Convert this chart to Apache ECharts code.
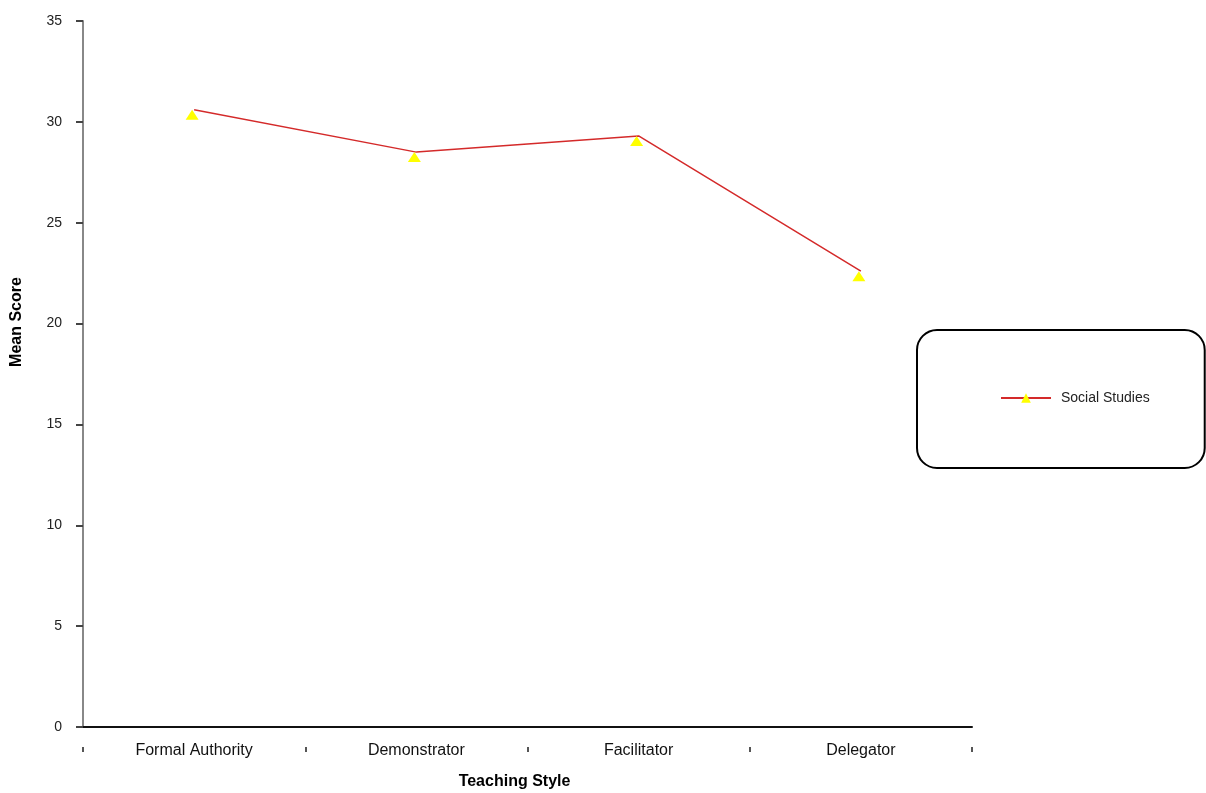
<!DOCTYPE html>
<html>
<head>
<meta charset="utf-8">
<script src="https://cdn.jsdelivr.net/npm/echarts@6/dist/echarts.min.js"></script>
<style>html,body{margin:0;padding:0;background:#fff}#c{width:1206px;height:793px}</style>
</head>
<body>
<div id="c"></div>
<script>
var categories = ['Formal Authority', 'Demonstrator', 'Facilitator', 'Delegator'];
var socialStudies = [30.6, 28.5, 29.3, 22.6];
var seriesName = 'Social Studies';

var chart = echarts.init(document.getElementById('c'));
chart.setOption({
  animation: false,
  backgroundColor: '#fff',
  textStyle: { fontFamily: 'Liberation Sans, Arial, sans-serif' },
  grid: { left: 83, right: 234, top: 21, bottom: 66, containLabel: false, outerBoundsMode: 'none' },
  legend: {
    orient: 'vertical',
    left: 917, top: 330,
    padding: [61, 55, 63, 83],
    borderColor: '#000', borderWidth: 2, borderRadius: 20,
    itemWidth: 50, itemHeight: 12, itemGap: 6,
    textStyle: { fontSize: 14, color: '#222', padding: [0, 0, 0, 5], fontFamily: 'Liberation Sans, Arial, sans-serif' },
    data: [seriesName]
  },
  xAxis: [{
    type: 'category',
    data: categories,
    boundaryGap: true,
    axisLine: { lineStyle: { color: '#111', width: 2 } },
    axisTick: { show: false },
    axisLabel: { fontSize: 16, color: '#111', margin: 16 },
    name: 'Teaching Style',
    nameLocation: 'middle',
    nameGap: 47,
    nameTextStyle: { fontSize: 16, fontWeight: 'bold', color: '#000', padding: [0, 26, 0, 0] }
  }, {
    type: 'category',
    data: categories,
    position: 'bottom',
    offset: 20,
    boundaryGap: true,
    axisLine: { show: false },
    axisTick: { show: true, length: 5, lineStyle: { color: '#555', width: 2 } },
    axisLabel: { show: false }
  }],
  yAxis: {
    type: 'value',
    min: 0, max: 35, interval: 5,
    axisLine: { show: true, lineStyle: { color: '#888', width: 2 } },
    axisTick: { show: true, length: 7, lineStyle: { color: '#444', width: 2 } },
    splitLine: { show: false },
    axisLabel: { fontSize: 14, color: '#222', margin: 21, padding: [0, 0, 8, 0] },
    name: 'Mean Score',
    nameLocation: 'middle',
    nameGap: 58,
    nameTextStyle: { fontSize: 16, fontWeight: 'bold', color: '#000', padding: [0, 0, 0, 104] }
  },
  series: [{
    name: seriesName,
    type: 'line',
    data: socialStudies,
    lineStyle: { color: '#d42a2a', width: 1.5 },
    itemStyle: { color: '#ffff00' },
    symbol: 'triangle',
    symbolSize: [13, 10],
    symbolOffset: [-2, 5]
  }]
});
</script>
</body>
</html>
